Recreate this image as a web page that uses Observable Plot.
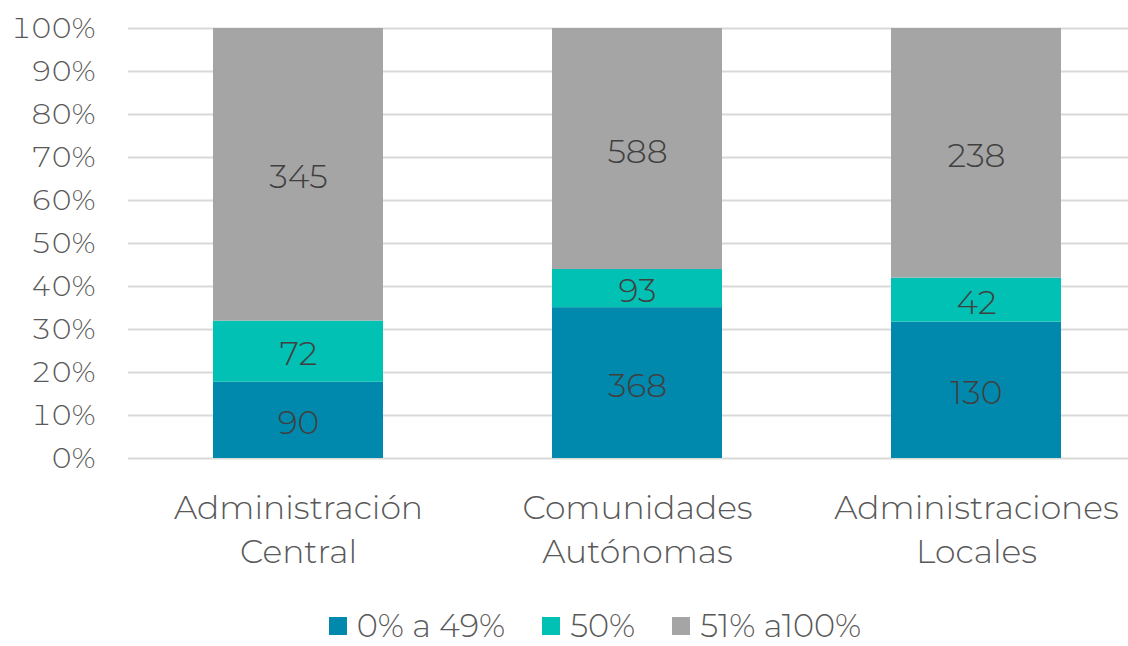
<!DOCTYPE html>
<html><head><meta charset="utf-8">
<script src="https://cdn.jsdelivr.net/npm/d3@7"></script>
<script src="https://cdn.jsdelivr.net/npm/@observablehq/plot@0.6"></script>
<style>
html,body{margin:0;padding:0;background:#fff;overflow:hidden;}
#chart{width:1128px;}
svg{display:block;}
.legend{display:flex;justify-content:center;align-items:center;gap:37px;font-family:"Montserrat","Noto Sans",sans-serif;font-weight:300;font-size:32px;line-height:38px;color:#595959;height:38px;margin-left:62px;}
.legend span.item{display:flex;align-items:center;gap:10px;}
.legend span.sw{width:18px;height:18px;display:inline-block;}
</style></head>
<body><div id="chart"></div>
<script>
const categories = ["Administración\nCentral", "Comunidades\nAutónomas", "Administraciones\nLocales"];
const series = ["0% a 49%", "50%", "51% a100%"];
const colors = ["#0089AD", "#00C1B3", "#A5A5A5"];
const values = [
  [90, 368, 130],
  [72, 93, 42],
  [345, 588, 238]
];
const yTicks = d3.range(0, 11).map(d => d / 10);

const data = [];
series.forEach((s, si) => categories.forEach((c, ci) => data.push({cat: c, series: s, value: values[si][ci]})));

const font = '"Montserrat","Noto Sans",sans-serif';
const plot = Plot.plot({
  width: 1128,
  height: 607,
  marginLeft: 128,
  marginRight: -17,
  marginTop: 28,
  marginBottom: 149,
  style: {fontFamily: font, fontWeight: 300, color: "#595959", background: "#fff", overflow: "hidden"},
  x: {domain: categories, paddingInner: 0.5, paddingOuter: 0.25, label: null},
  y: {domain: [0, 1], label: null},
  color: {domain: series, range: colors},
  marks: [
    Plot.ruleY(yTicks, {stroke: "#d9d9d9", strokeWidth: 2}),
    Plot.barY(data, Plot.stackY({offset: "normalize", x: "cat", y: "value", fill: "series", order: null})),
    Plot.text(data, Plot.stackY({offset: "normalize", x: "cat", y: "value", text: d => String(d.value), fill: "#404040", fontSize: 33, fontWeight: 300, dy: 3, order: null})),
    Plot.axisY({ticks: yTicks, tickFormat: d3.format(".0%"), tickSize: 0, tickPadding: 33, fontSize: 29, fontWeight: 300, fill: "#595959"}),
    Plot.axisX({tickSize: 0, tickPadding: 30, fontSize: 33, fontWeight: 300, lineHeight: 1.32, fill: "#595959"})
  ]
});
document.getElementById("chart").appendChild(plot);

const legend = document.createElement("div");
legend.className = "legend";
series.forEach((s, i) => {
  const it = document.createElement("span");
  it.className = "item";
  const sw = document.createElement("span");
  sw.className = "sw";
  sw.style.background = colors[i];
  it.appendChild(sw);
  it.appendChild(document.createTextNode(s));
  legend.appendChild(it);
});
document.getElementById("chart").appendChild(legend);
</script></body></html>
